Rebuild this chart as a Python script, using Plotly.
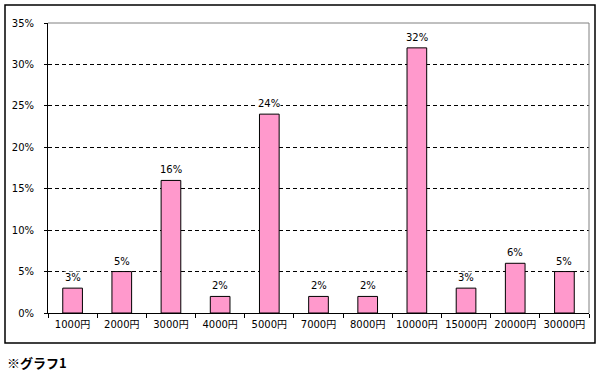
import plotly.graph_objects as go

categories = ["1000円", "2000円", "3000円", "4000円", "5000円", "7000円", "8000円",
              "10000円", "15000円", "20000円", "30000円"]
values = [3, 5, 16, 2, 24, 2, 2, 32, 3, 6, 5]
y_ticks = [0, 5, 10, 15, 20, 25, 30, 35]
y_tick_labels = [f"{v}%" for v in y_ticks]
caption = "※グラフ1"

FONT = "DejaVu Sans, Noto Sans CJK JP"
CJK = "Noto Sans CJK JP"
W, H = 605, 378
L, R, T, B = 48, 589, 23, 313

fig = go.Figure(go.Bar(
    x=categories, y=values,
    marker=dict(color="#FF99CC", line=dict(color="black", width=1)),
    width=0.4,
    hoverinfo="skip",
))

def px(x):
    return (x - L) / (R - L)

def py(y):
    return (B - y) / (B - T)

annotations = [
    dict(x=c, y=v, xref="x", yref="y", text=f"{v}%", showarrow=False,
         yanchor="bottom", yshift=4, bgcolor="white", borderpad=0,
         font=dict(family=FONT, size=10, color="black"))
    for c, v in zip(categories, values)
]
annotations.append(
    dict(text=f"<b>{caption}</b>", xref="paper", yref="paper",
         x=px(5), y=py(362), xanchor="left", yanchor="middle",
         showarrow=False, font=dict(family=CJK, size=13, color="black"))
)

fig.update_layout(
    width=W, height=H,
    margin=dict(l=L, r=W - R, t=T, b=H - B),
    paper_bgcolor="white", plot_bgcolor="white",
    font=dict(family=FONT, size=10, color="black"),
    showlegend=False,
    xaxis=dict(
        showline=True, linecolor="black", linewidth=1,
        ticks="outside", tickson="boundaries", ticklen=4, tickcolor="black",
        tickfont=dict(family=FONT, size=10), showgrid=False, tickangle=0,
        ticklabelstandoff=2,
    ),
    yaxis=dict(
        range=[0, 35], tickvals=y_ticks, ticktext=y_tick_labels,
        showline=True, linecolor="black", linewidth=1,
        ticks="outside", ticklen=3, tickcolor="black", ticklabelstandoff=8,
        showgrid=True, gridcolor="black", griddash="4px,3px", gridwidth=1,
        zeroline=False, tickfont=dict(family=FONT, size=10),
    ),
    shapes=[
        dict(type="line", xref="paper", yref="paper", x0=0, x1=1, y0=1, y1=1,
             line=dict(color="#808080", width=1)),
        dict(type="line", xref="paper", yref="paper", x0=1, x1=1, y0=0, y1=1,
             line=dict(color="#808080", width=1)),
        dict(type="rect", xref="paper", yref="paper",
             x0=px(5), x1=px(595), y0=py(343), y1=py(5),
             line=dict(color="black", width=1.5), fillcolor="rgba(0,0,0,0)", layer="below"),
    ],
    annotations=annotations,
)

fig.write_html("out.html", config={"displayModeBar": False, "staticPlot": True},
               post_script="document.body.style.margin='0';document.body.style.overflow='hidden';")
